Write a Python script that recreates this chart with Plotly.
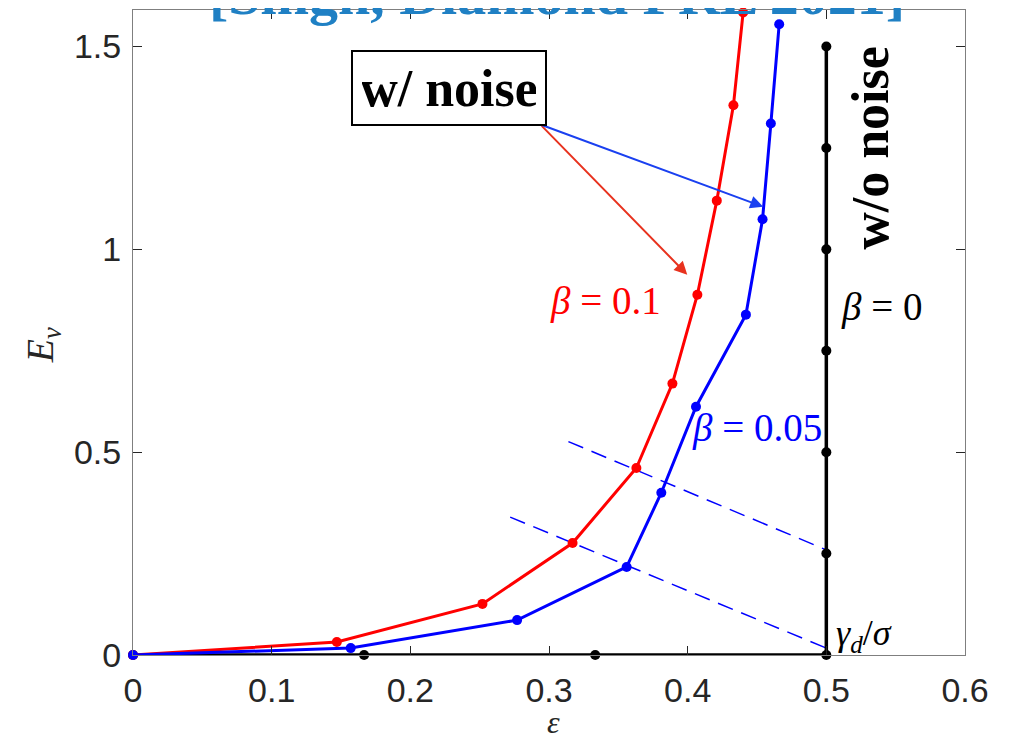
import plotly.graph_objects as go

# ---- data ----
eps_b01 = [0.0, 0.147, 0.252, 0.317, 0.363, 0.389, 0.407, 0.421, 0.433, 0.440]
ev_b01 = [0.0, 0.032, 0.126, 0.276, 0.461, 0.669, 0.888, 1.120, 1.355, 1.584]

eps_b005 = [0.0, 0.157, 0.277, 0.356, 0.381, 0.406, 0.442, 0.454, 0.460, 0.466]
ev_b005 = [0.0, 0.017, 0.086, 0.217, 0.400, 0.612, 0.839, 1.074, 1.310, 1.555]

eps_b0 = [0.0, 1/6, 1/3, 0.5, 0.5, 0.5, 0.5, 0.5, 0.5, 0.5]
ev_b0 = [0.0, 0.0, 0.0, 0.0, 0.25, 0.5, 0.75, 1.0, 1.25, 1.5]

dash1_x = [0.272, 0.5]
dash1_y = [0.340, 0.017]
dash2_x = [0.314, 0.5]
dash2_y = [0.526, 0.259]

x_ticks = [0, 0.1, 0.2, 0.3, 0.4, 0.5, 0.6]
x_ticklabels = ["0", "0.1", "0.2", "0.3", "0.4", "0.5", "0.6"]
y_ticks = [0, 0.5, 1, 1.5]
y_ticklabels = ["0", "0.5", "1", "1.5"]

RED = "#ff0000"
BLUE = "#0000ff"
BLACK = "#000000"
SERIF = "Liberation Serif, Times New Roman, serif"
SANS = "Liberation Sans, Arial, Helvetica, sans-serif"

fig = go.Figure()

for xs, ys in [(dash1_x, dash1_y), (dash2_x, dash2_y)]:
    fig.add_trace(go.Scatter(x=xs, y=ys, mode="lines",
                             line=dict(color=BLUE, width=1.5, dash="16px,9px"),
                             hoverinfo="skip", showlegend=False, cliponaxis=False))

fig.add_trace(go.Scatter(x=eps_b0, y=ev_b0, mode="lines+markers",
                         line=dict(color=BLACK, width=3.5),
                         marker=dict(color=BLACK, size=10),
                         showlegend=False, cliponaxis=False))
fig.add_trace(go.Scatter(x=eps_b01, y=ev_b01, mode="lines+markers",
                         line=dict(color=RED, width=3),
                         marker=dict(color=RED, size=10),
                         showlegend=False, cliponaxis=False))
fig.add_trace(go.Scatter(x=eps_b005, y=ev_b005, mode="lines+markers",
                         line=dict(color=BLUE, width=3),
                         marker=dict(color=BLUE, size=10),
                         showlegend=False, cliponaxis=False))

annotations = [
    # title (cut off at top)
    dict(text="<b>[Singh, Diamond PRL 2021]</b>", xref="paper", yref="paper",
         x=0.51, y=1, xanchor="center", yanchor="middle", yshift=16,
         showarrow=False, font=dict(family=SERIF, size=58, color="#1f80c4")),
    # arrows
    dict(x=0.3997, y=0.9376, ax=0.2937, ay=1.308, xref="x", yref="y",
         axref="x", ayref="y", showarrow=True, arrowhead=2, arrowsize=1.3,
         arrowwidth=2, arrowcolor="#e8321e", standoff=0, text=""),
    dict(x=0.4545, y=1.105, ax=0.2937, ay=1.308, xref="x", yref="y",
         axref="x", ayref="y", showarrow=True, arrowhead=2, arrowsize=1.3,
         arrowwidth=2, arrowcolor="#1a40f0", standoff=0, text=""),
    # w/ noise box
    dict(text="<b>w/ noise</b>", x=0.228, y=1.397, xref="x", yref="y",
         showarrow=False, bgcolor="white", bordercolor="black", borderwidth=2,
         borderpad=9, width=174, height=54,
         font=dict(family=SERIF, size=52, color=BLACK)),
    # w/o noise rotated
    dict(text="<b>w/o noise</b>", x=0.5317, y=1.251, xref="x", yref="y",
         showarrow=False, textangle=-90,
         font=dict(family=SERIF, size=52, color=BLACK)),
    # beta labels
    dict(text="<i>β</i> = 0.1", x=0.3405, y=0.873, xref="x", yref="y",
         showarrow=False, font=dict(family=SERIF, size=39, color=RED)),
    dict(text="<i>β</i> = 0.05", x=0.450, y=0.560, xref="x", yref="y",
         showarrow=False, font=dict(family=SERIF, size=39, color=BLUE)),
    dict(text="<i>β</i> = 0", x=0.540, y=0.857, xref="x", yref="y",
         showarrow=False, font=dict(family=SERIF, size=39, color=BLACK)),
    dict(text="<i>γ</i><sub><i>d</i></sub>/<i>σ</i>", x=0.527, y=0.047,
         xref="x", yref="y", showarrow=False,
         font=dict(family=SERIF, size=36, color=BLACK)),
    # axis titles
    dict(text="<i>E</i><sub><i>v</i></sub>", xref="paper", yref="paper",
         x=-0.108, y=0.4806, xanchor="center", yanchor="middle",
         showarrow=False, textangle=-90,
         font=dict(family=SERIF, size=38, color="#262626")),
    dict(text="<i>ε</i>", xref="paper", yref="paper",
         x=0.505, y=-0.104, xanchor="center", yanchor="middle",
         showarrow=False,
         font=dict(family=SERIF, size=32, color="#262626")),
]

# the page places the figure 8px from the top-left corner, so margins compensate
fig.update_layout(
    width=1014, height=736,
    margin=dict(l=125, r=57, t=2, b=89),
    paper_bgcolor="white", plot_bgcolor="white",
    annotations=annotations,
    xaxis=dict(range=[0, 0.6], tickvals=x_ticks, ticktext=x_ticklabels,
               ticks="inside", ticklen=9, tickcolor="#262626", tickwidth=1,
               showline=True, linecolor="#7f7f7f", linewidth=1, mirror="ticks",
               showgrid=False, zeroline=False, ticklabelstandoff=5,
               tickfont=dict(family=SANS, size=34, color="#262626")),
    yaxis=dict(range=[0, 1.59], tickvals=y_ticks, ticktext=y_ticklabels,
               ticks="inside", ticklen=9, tickcolor="#262626", tickwidth=1,
               showline=True, linecolor="#7f7f7f", linewidth=1, mirror="ticks",
               showgrid=False, zeroline=False, ticklabelstandoff=4,
               tickfont=dict(family=SANS, size=34, color="#262626")),
)

fig.write_html("out.html")
